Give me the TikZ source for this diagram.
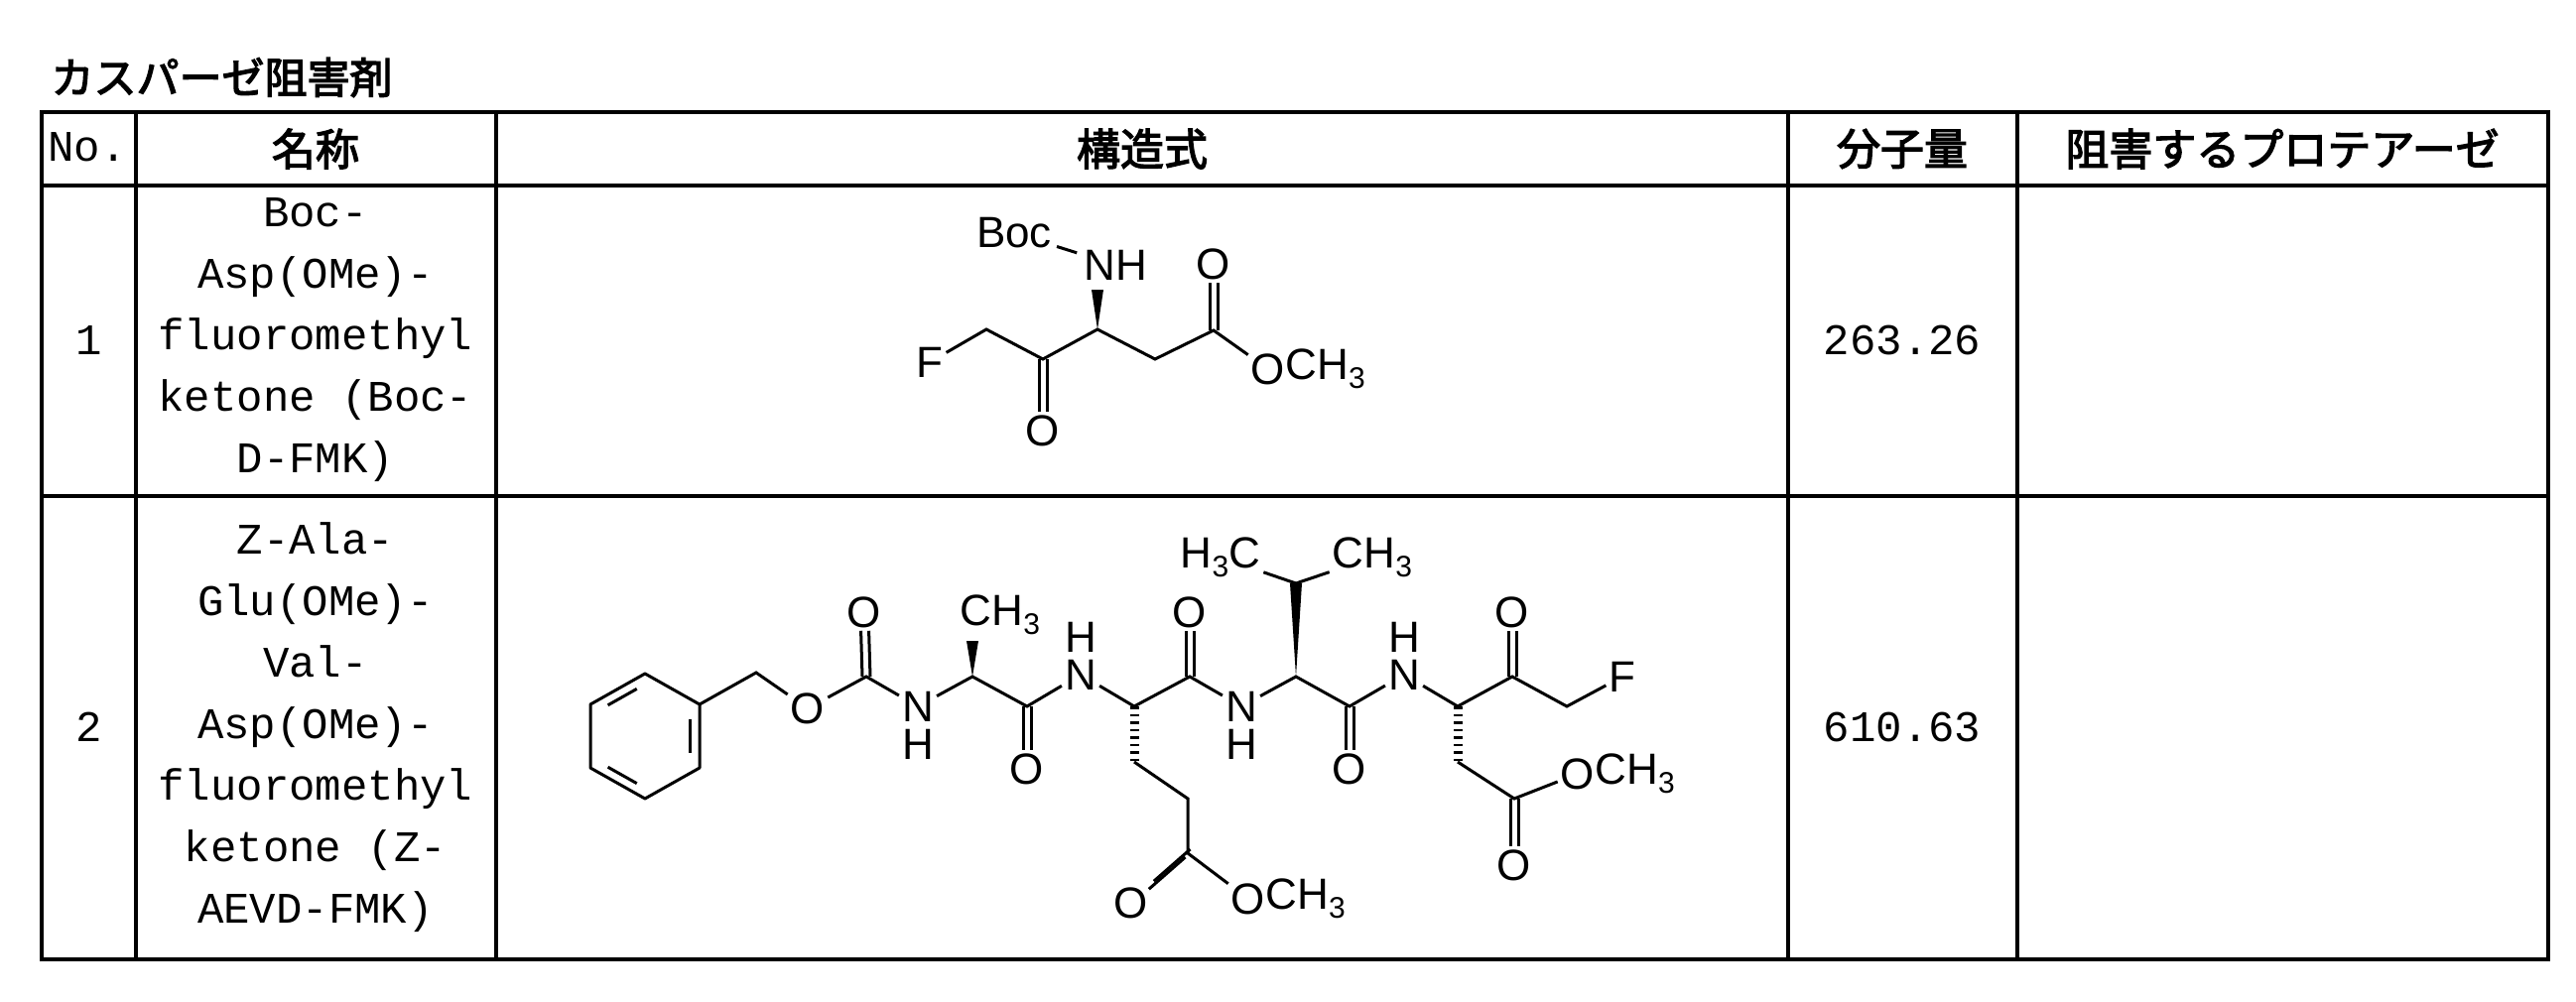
\documentclass[tikz,border=0pt]{standalone}
\usepackage{fontspec}
\usetikzlibrary{calc}
\newfontfamily\chemf{Liberation Sans}
\newfontfamily\monof{Liberation Mono}
\newfontfamily\cjkf[FakeBold=3]{Noto Sans CJK JP}
\newcommand\chsub[1]{\raisebox{-0.4ex}{\fontsize{30}{30}\selectfont #1}}
\tikzset{
 lbl/.style={font=\fontsize{44}{44}\selectfont\chemf, inner sep=3pt},
 bond/.style={line width=3pt},
 mono/.style={font=\fontsize{44}{62}\selectfont\monof, align=center},
 hdr/.style={font=\fontsize{44}{44}\selectfont\cjkf},
 tbl/.style={line width=4pt},
 hash/.style={line width=9pt, dash pattern=on 2.5pt off 5pt},
}
\begin{document}
\begin{tikzpicture}[x=1pt,y=-1pt]
\useasboundingbox (0,0) rectangle (2596,1009);
% title
\node[hdr, font=\fontsize{43}{43}\selectfont\cjkf, anchor=west] (title) at (48,78) {カスパーゼ阻害剤};
% table
\draw[tbl] (42,113) rectangle (2568,967);
\draw[tbl] (42,187) -- (2568,187);
\draw[tbl] (42,500) -- (2568,500);
\foreach \x in {137,500,1802,2033} \draw[tbl] (\x,113) -- (\x,967);
% header
\node[mono] (hno) at (88,148) {No.};
\node[hdr] (hname) at (318,150) {名称};
\node[hdr] (hstr) at (1151,150) {構造式};
\node[hdr] (hmw) at (1917,150) {分子量};
\node[hdr] (hinh) at (2300,150) {阻害するプロテアーゼ};
% row 1
\node[mono] (n1) at (90,343) {1};
\node[mono] (name1) at (318,343) {Boc-\\Asp(OMe)-\\fluoromethyl\\ketone (Boc-\\D-FMK)};
\node[mono] (mw1) at (1917,343) {263.26};
% row 2
\node[mono] (n2) at (90,733) {2};
\node[mono] (name2) at (318,733) {Z-Ala-\\Glu(OMe)-\\Val-\\Asp(OMe)-\\fluoromethyl\\ketone (Z-\\AEVD-FMK)};
\node[mono] (mw2) at (1917,733) {610.63};

% ===== structure 1 =====
\coordinate (a1) at (994,332);
\coordinate (a2) at (1051,362);
\coordinate (a3) at (1106,332);
\coordinate (a4) at (1164,362);
\coordinate (a5) at (1223,333);
\coordinate (a3w) at (1106,292);
\node[lbl] (aF) at (937,365) {F};
\node[lbl] (aO2) at (1051,434) {O};
\node[lbl] (aO5) at (1223,266) {O};
\node[lbl] (aOe) at (1278,372) {O};
\node[lbl, anchor=west, inner xsep=0pt] (aMe) at ([xshift=-3pt]aOe.east) {CH\chsub{3}};
\node[lbl] (aNH) at (1124,267) {NH};
\node[lbl] (aBoc) at (1022,235) {Boc};
\draw[bond] (aF) -- (a1) -- (a2) -- (a3) -- (a4) -- (a5) -- (aOe);
\draw[bond, transform canvas={xshift=-4pt}] (a2) -- (aO2);
\draw[bond, transform canvas={xshift=4pt}] (a2) -- (aO2);
\draw[bond, transform canvas={xshift=-4pt}] (a5) -- (aO5);
\draw[bond, transform canvas={xshift=4pt}] (a5) -- (aO5);
\fill (a3) -- ([xshift=-6pt]a3w) -- ([xshift=6pt]a3w) -- cycle;
\draw[bond, shorten <=2pt, shorten >=4pt] (aBoc) -- (aNH);

% ===== structure 2 =====
\coordinate (bc) at (650,742);
\coordinate (b1) at (650,679);
\coordinate (b2) at (705,710);
\coordinate (b3) at (705,774);
\coordinate (b4) at (650,805);
\coordinate (b5) at (595,774);
\coordinate (b6) at (595,710);
\draw[bond, line join=round] (b1) -- (b2) -- (b3) -- (b4) -- (b5) -- (b6) -- cycle;
\draw[bond] ($(bc)!0.8!(b6)!0.15!(b1)$) -- ($(bc)!0.8!(b1)!0.15!(b6)$);
\draw[bond] ($(bc)!0.8!(b2)!0.15!(b3)$) -- ($(bc)!0.8!(b3)!0.15!(b2)$);
\draw[bond] ($(bc)!0.8!(b4)!0.15!(b5)$) -- ($(bc)!0.8!(b5)!0.15!(b4)$);
\coordinate (ch2) at (762,678);
\node[lbl] (oz) at (814,714) {O};
\coordinate (cz) at (873,682);
\node[lbl] (ozd) at (871,617) {O};
\node[lbl] (n1a) at (925,712) {N};
\node[lbl] (h1a) at (925,750) {H};
\coordinate (ca1) at (980,682);
\coordinate (ca1w) at (980,646);
\node[lbl] (me1) at (1008,620) {CH\chsub{3}};
\coordinate (c1c) at (1035,712);
\node[lbl] (o1c) at (1035,775) {O};
\node[lbl] (n2a) at (1089,680) {N};
\node[lbl] (h2a) at (1089,642) {H};
\coordinate (ca2) at (1143,712);
\coordinate (c2c) at (1199,682);
\node[lbl] (o2c) at (1199,617) {O};
\node[lbl] (n3a) at (1251,712) {N};
\node[lbl] (h3a) at (1251,750) {H};
\coordinate (ca3) at (1306,682);
\coordinate (cb3) at (1306,588);
\node[lbl] (ma) at (1230,562) {H\chsub{3}C};
\node[lbl] (mb) at (1383,562) {CH\chsub{3}};
\coordinate (c3c) at (1360,712);
\node[lbl] (o3c) at (1360,775) {O};
\node[lbl] (n4a) at (1415,680) {N};
\node[lbl] (h4a) at (1415,642) {H};
\coordinate (ca4) at (1469,712);
\coordinate (c4c) at (1524,682);
\node[lbl] (o4c) at (1524,617) {O};
\coordinate (cf) at (1579,712);
\node[lbl] (f2) at (1635,682) {F};
% backbone
\draw[bond] (b2) -- (ch2) -- (oz) -- (cz) -- (n1a) -- (ca1) -- (c1c) -- (n2a) -- (ca2) -- (c2c) -- (n3a) -- (ca3) -- (c3c) -- (n4a) -- (ca4) -- (c4c) -- (cf) -- (f2);
\foreach \p/\q/\s in {cz/ozd/4, c1c/o1c/4, c2c/o2c/4, c3c/o3c/4, c4c/o4c/4} {
  \draw[bond, transform canvas={xshift=-\s pt}] (\p) -- (\q);
  \draw[bond, transform canvas={xshift=\s pt}] (\p) -- (\q);
}
% wedges
\fill (ca1) -- ([xshift=-6pt]ca1w) -- ([xshift=6pt]ca1w) -- cycle;
\fill (ca3) -- ([xshift=-6pt]cb3) -- ([xshift=6pt]cb3) -- cycle;
\draw[bond] (ma) -- (cb3) -- (mb);
% Glu side chain
\coordinate (gb) at (1143,768);
\coordinate (gg) at (1197,805);
\coordinate (ge) at (1197,860);
\node[lbl] (go) at (1140,910) {O};
\node[lbl] (goe) at (1258,906) {O};
\node[lbl, anchor=west, inner xsep=0pt] (gme) at ([xshift=-3pt]goe.east) {CH\chsub{3}};
\draw[hash] (ca2) -- (gb);
\draw[bond] (gb) -- (gg) -- (ge) -- (goe);
\draw[bond, transform canvas={xshift=-2.5pt,yshift=-4pt}] (ge) -- (go);
\draw[bond, transform canvas={xshift=2.5pt,yshift=4pt}] (ge) -- (go);
% Asp side chain
\coordinate (ab) at (1469,768);
\coordinate (ae) at (1526,805);
\node[lbl] (ao) at (1526,872) {O};
\node[lbl] (aoe) at (1590,780) {O};
\node[lbl, anchor=west, inner xsep=0pt] (ame) at ([xshift=-3pt]aoe.east) {CH\chsub{3}};
\draw[hash] (ca4) -- (ab);
\draw[bond] (ab) -- (ae) -- (aoe);
\draw[bond, transform canvas={xshift=-4pt}] (ae) -- (ao);
\draw[bond, transform canvas={xshift=4pt}] (ae) -- (ao);
\end{tikzpicture}
\end{document}
